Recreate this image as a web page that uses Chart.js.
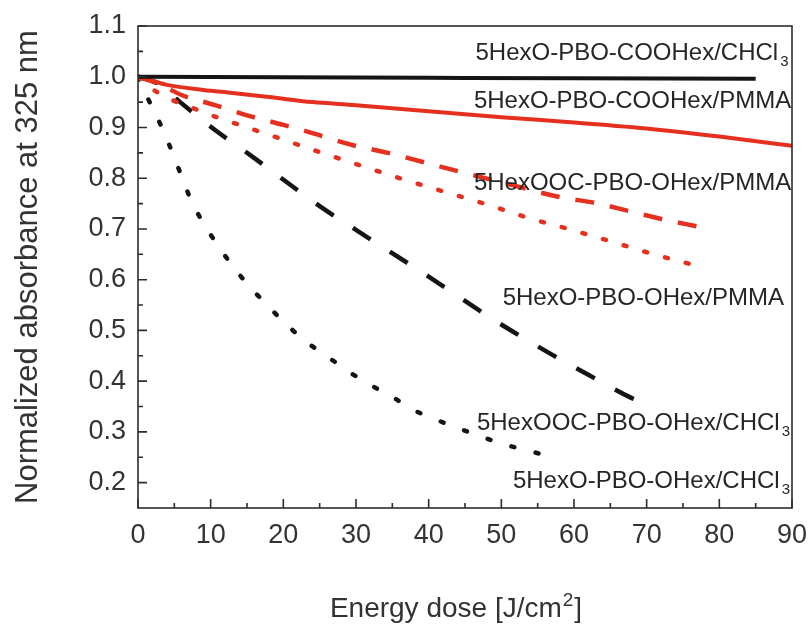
<!DOCTYPE html>
<html>
<head>
<meta charset="utf-8">
<script src="https://cdn.jsdelivr.net/npm/chart.js@4.4.1/dist/chart.umd.min.js"></script>
<style>
html, body { margin: 0; padding: 0; background: #fff; }
#wrap { width: 811px; height: 624px; }
</style>
</head>
<body>
<div id="wrap"><canvas id="chart" width="811" height="624"></canvas></div>
<script>
// axis ticks
var X_TICKS = [0, 10, 20, 30, 40, 50, 60, 70, 80, 90];
var X_MINOR = [5, 15, 25, 35, 45, 55, 65, 75, 85];
var Y_TICKS = [0.2, 0.3, 0.4, 0.5, 0.6, 0.7, 0.8, 0.9, 1.0, 1.1];
var Y_MINOR = [0.25, 0.35, 0.45, 0.55, 0.65, 0.75, 0.85, 0.95, 1.05];

// 5HexO-PBO-COOHex/CHCl3 (black solid)
var doseCooChcl = [0, 20, 40, 60, 85];
var absCooChcl = [1.0, 0.999, 0.998, 0.997, 0.996];

// 5HexO-PBO-COOHex/PMMA (red solid)
var doseCooPmma = [0, 2, 4, 9, 13, 18, 24, 30, 40, 50, 60, 70, 80, 90];
var absCooPmma = [1.0, 0.992, 0.984, 0.974, 0.968, 0.96, 0.95, 0.944, 0.932, 0.92, 0.91, 0.898, 0.882, 0.864];

// 5HexOOC-PBO-OHex/PMMA (red dashed)
var doseOocPmma = [0, 3, 6, 10.6, 15, 20, 24, 29.6, 34.4, 39.2, 44, 50, 58, 63, 67.6, 72.2, 77];
var absOocPmma = [1.0, 0.985, 0.964, 0.944, 0.924, 0.905, 0.889, 0.865, 0.85, 0.832, 0.814, 0.792, 0.763, 0.751, 0.735, 0.719, 0.705];

// 5HexO-PBO-OHex/PMMA (red dotted)
var doseOhxPmma = [0, 2.8, 8.3, 11.3, 14, 16.9, 19.8, 22.6, 30, 36.9, 42, 48.3, 53.9, 59.7, 65.4, 71, 77];
var absOhxPmma = [1.0, 0.968, 0.934, 0.918, 0.905, 0.891, 0.877, 0.863, 0.828, 0.796, 0.774, 0.747, 0.721, 0.698, 0.674, 0.65, 0.627];

// 5HexOOC-PBO-OHex/CHCl3 (black dashed)
var doseOocChcl = [0, 3, 5.8, 10.6, 15.4, 20.3, 25, 30.1, 40, 48.5, 53.3, 58.1, 62.8, 67.6, 69];
var absOocChcl = [1.0, 0.985, 0.95, 0.895, 0.846, 0.794, 0.745, 0.697, 0.606, 0.525, 0.483, 0.443, 0.406, 0.369, 0.36];

// 5HexO-PBO-OHex/CHCl3 (black dotted)
var doseOhxChcl = [0, 1.4, 2.8, 4, 5.5, 7.3, 8.8, 10.6, 12.8, 15.2, 17.9, 20.7, 23.4, 26.4, 29.4, 32.3, 35.1, 37.8, 40.7, 43.4, 46.4, 49.2, 52, 55, 57.8];
var absOhxChcl = [1.0, 0.956, 0.915, 0.876, 0.822, 0.757, 0.716, 0.676, 0.631, 0.589, 0.548, 0.508, 0.475, 0.445, 0.415, 0.39, 0.368, 0.344, 0.326, 0.311, 0.295, 0.281, 0.269, 0.258, 0.246];

// in-plot labels: text, subscript, right edge (dose), baseline (absorbance)
var LABEL_TEXT = ['5HexO-PBO-COOHex/CHCl', '5HexO-PBO-COOHex/PMMA', '5HexOOC-PBO-OHex/PMMA', '5HexO-PBO-OHex/PMMA', '5HexOOC-PBO-OHex/CHCl', '5HexO-PBO-OHex/CHCl'];
var LABEL_SUB = ['3', '', '', '', '3', '3'];
var LABEL_X = [88.1, 89.9, 89.9, 88.9, 88.3, 88.3];
var LABEL_Y = [1.033, 0.938, 0.777, 0.55, 0.304, 0.189];

var RED = '#e6301f';
var BLACK = '#151515';
var FONT = "'Liberation Sans', Arial, sans-serif";

function pts(xs, ys) {
    return xs.map(function (x, i) { return { x: x, y: ys[i] }; });
}

function series(label, xs, ys, color, dash, cap) {
    return {
        label: label,
        data: pts(xs, ys),
        borderColor: color,
        borderWidth: dash.length ? 4.5 : 4,
        borderDash: dash,
        borderCapStyle: cap || 'butt',
        pointRadius: 0,
        fill: false,
        cubicInterpolationMode: 'monotone'
    };
}

var framePlugin = {
    id: 'frame',
    afterDatasetsDraw: function (chart) {
        var ctx = chart.ctx, a = chart.chartArea;
        var xs = chart.scales.x, ys = chart.scales.y;
        ctx.save();
        ctx.strokeStyle = '#2d2d2d';
        ctx.lineWidth = 1.6;
        ctx.strokeRect(a.left, a.top, a.right - a.left, a.bottom - a.top);
        ctx.beginPath();
        X_TICKS.forEach(function (v) { var p = xs.getPixelForValue(v); ctx.moveTo(p, a.bottom); ctx.lineTo(p, a.bottom - 9); });
        X_MINOR.forEach(function (v) { var p = xs.getPixelForValue(v); ctx.moveTo(p, a.bottom); ctx.lineTo(p, a.bottom - 5); });
        Y_TICKS.forEach(function (v) { var p = ys.getPixelForValue(v); ctx.moveTo(a.left, p); ctx.lineTo(a.left + 9, p); });
        Y_MINOR.forEach(function (v) { var p = ys.getPixelForValue(v); ctx.moveTo(a.left, p); ctx.lineTo(a.left + 5, p); });
        ctx.stroke();

        // curve labels
        ctx.fillStyle = '#262626';
        ctx.textBaseline = 'alphabetic';
        LABEL_TEXT.forEach(function (t, i) {
            var px = xs.getPixelForValue(LABEL_X[i]);
            var py = ys.getPixelForValue(LABEL_Y[i]);
            ctx.font = '24px ' + FONT;
            ctx.textAlign = 'right';
            ctx.fillText(t, px, py);
            if (LABEL_SUB[i]) {
                ctx.font = '15px ' + FONT;
                ctx.textAlign = 'left';
                ctx.fillText(LABEL_SUB[i], px + 2, py + 6);
            }
        });

        // x axis title with superscript
        ctx.fillStyle = '#333';
        ctx.textAlign = 'left';
        var mainFont = '28px ' + FONT, supFont = '19px ' + FONT;
        var t1 = 'Energy dose [J/cm', t2 = '2', t3 = ']';
        ctx.font = mainFont; var w1 = ctx.measureText(t1).width, w3 = ctx.measureText(t3).width;
        ctx.font = supFont; var w2 = ctx.measureText(t2).width;
        var x0 = (a.left + a.right) / 2 - 10 - (w1 + w2 + w3) / 2;
        var base = a.bottom + 109;
        ctx.font = mainFont; ctx.fillText(t1, x0, base);
        ctx.font = supFont; ctx.fillText(t2, x0 + w1 + 1, base - 11);
        ctx.font = mainFont; ctx.fillText(t3, x0 + w1 + w2 + 2, base);
        ctx.restore();
    }
};

new Chart(document.getElementById('chart'), {
    type: 'line',
    data: {
        datasets: [
            series('5HexO-PBO-COOHex/CHCl3', doseCooChcl, absCooChcl, BLACK, []),
            series('5HexO-PBO-COOHex/PMMA', doseCooPmma, absCooPmma, RED, []),
            series('5HexOOC-PBO-OHex/PMMA', doseOocPmma, absOocPmma, RED, [19, 16]),
            series('5HexO-PBO-OHex/PMMA', doseOhxPmma, absOhxPmma, RED, [3, 18.5], 'round'),
            series('5HexOOC-PBO-OHex/CHCl3', doseOocChcl, absOocChcl, BLACK, [21, 23]),
            series('5HexO-PBO-OHex/CHCl3', doseOhxChcl, absOhxChcl, BLACK, [3, 22], 'round')
        ]
    },
    options: {
        responsive: false,
        animation: false,
        devicePixelRatio: 1,
        layout: { padding: { top: 26, right: 19, left: 0, bottom: 0 } },
        plugins: { legend: { display: false }, tooltip: { enabled: false } },
        scales: {
            x: {
                type: 'linear',
                min: 0,
                max: 90,
                grid: { display: false, drawTicks: false },
                border: { display: false },
                afterBuildTicks: function (s) { s.ticks = X_TICKS.map(function (v) { return { value: v }; }); },
                afterFit: function (s) { s.height = 116; s.paddingLeft = 0; s.paddingRight = 0; },
                ticks: { autoSkip: false, maxRotation: 0, padding: 11, color: '#333', font: { family: FONT, size: 27 } },
                title: { display: false }
            },
            y: {
                min: 0.15,
                max: 1.1,
                grid: { display: false, drawTicks: false },
                border: { display: false },
                afterBuildTicks: function (s) { s.ticks = Y_TICKS.map(function (v) { return { value: v }; }); },
                afterFit: function (s) { s.width = 138; s.paddingTop = 0; s.paddingBottom = 0; },
                ticks: { autoSkip: false, padding: 12, color: '#333', font: { family: FONT, size: 27 },
                    callback: function (v) { return Number(v).toFixed(1); } },
                title: { display: true, text: 'Normalized absorbance at 325 nm', color: '#333', padding: { top: 10, bottom: 0 }, font: { family: FONT, size: 31 } }
            }
        }
    },
    plugins: [framePlugin]
});
</script>
</body>
</html>
